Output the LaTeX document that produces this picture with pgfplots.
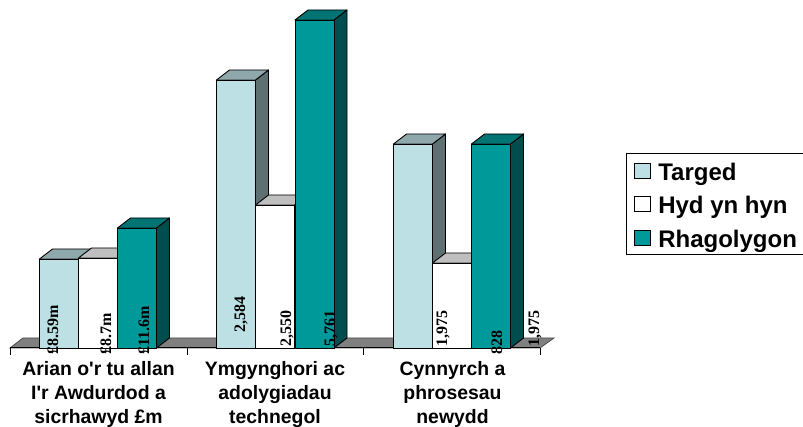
\documentclass[border=0pt]{standalone}
\usepackage{fontspec}
\setmainfont{Liberation Sans}
\newfontfamily\ser{Liberation Serif}
\usepackage{pgfplots}
\pgfplotsset{compat=1.18}
\definecolor{tgF}{HTML}{BCE0E4}\definecolor{tgS}{HTML}{5E7072}\definecolor{tgT}{HTML}{8EA8AB}
\definecolor{hyF}{HTML}{FFFFFF}\definecolor{hyS}{HTML}{808080}\definecolor{hyT}{HTML}{BFBFBF}
\definecolor{rhF}{HTML}{009999}\definecolor{rhS}{HTML}{004D4D}\definecolor{rhT}{HTML}{007373}
\pgfplotsset{barface/.style={ybar,bar width=39,bar shift=0pt,draw=black,line width=0.9pt,forget plot},
 poly/.style={draw=black,line width=0.9pt,forget plot,line join=round}}
% side and top faces of one bar: left x, height, side colour, top colour
\newcommand\depth[4]{%
 \pgfmathsetmacro\xa{#1+39}\pgfmathsetmacro\xb{#1+52}\pgfmathsetmacro\xc{#1+13}%
 \pgfmathsetmacro\yb{#2+10}%
 \addplot[poly,fill=#3] coordinates {(\xa,0)(\xb,10)(\xb,\yb)(\xa,#2)} -- cycle;
 \addplot[poly,fill=#4] coordinates {(#1,#2)(\xc,\yb)(\xb,\yb)(\xa,#2)} -- cycle;
}
\newcommand\lab[4]{\node[rotate=90,anchor=#3,inner sep=0pt,font=\ser\fontsize{16}{16}\selectfont\bfseries] at (axis cs:#1,#2) {#4};}
\newcommand\ent[1]{\hspace*{7.5pt}\rule[-4pt]{0pt}{25pt}#1}
\begin{document}
\begin{tikzpicture}
\path[use as bounding box] (0,0) rectangle (803pt,427pt);
\begin{axis}[
 at={(0,0)},anchor=south west,scale only axis,width=803pt,height=427pt,
 xmin=0,xmax=803,ymin=-79,ymax=348,clip=false,
 hide y axis,axis x line=middle,x axis line style={draw=none,-},
 tick align=outside,
 xtick={98.5,275,452.5},
 xticklabels={{Arian o\textquotesingle r tu allan\\I\textquotesingle r Awdurdod a\\sicrhawyd £m},{Ymgynghori ac\\adolygiadau\\technegol},{Cynnyrch a\\phrosesau\\newydd}},
 xticklabel style={align=center,font=\fontsize{19.4}{24}\selectfont\bfseries,text=black,inner sep=0pt,yshift=-13pt},
 major tick length=0pt,
 extra x ticks={10,187,363.5,540},extra x tick labels={},
 extra tick style={major tick length=7pt,tick style={draw=black,line width=0.8pt}},
 legend style={at={(axis cs:634,188.5)},anchor=north west,draw=none,fill=none,
   inner sep=0pt,outer sep=0pt,row sep=11pt,
   font=\fontsize{24}{24}\selectfont\bfseries,
   nodes={inner sep=0pt,anchor=west}},
 legend cell align=left,
 legend image code/.code={\draw[#1,line width=0.8pt] (0pt,-7.5pt) rectangle (16pt,7.5pt);},
]
\addlegendimage{fill=tgF,draw=black}
\addlegendimage{fill=hyF,draw=black}
\addlegendimage{fill=rhF,draw=black}
\addlegendentry{\ent{Targed}}\addlegendentry{\ent{Hyd yn hyn}}\addlegendentry{\ent{Rhagolygon}}
% legend frame, open at the right edge of the picture
\addplot[draw=black,line width=0.9pt,forget plot] coordinates {(803,195)(626,195)(626,94)(803,94)};
% floor
\addplot[fill=gray,draw=black!70,line width=0.8pt,forget plot] coordinates {(10,0)(23,10)(554,10)(540,0)} -- cycle;
\addplot[black,line width=1pt,forget plot] coordinates {(10,0)(540,0)};
% Targed
\depth{39.5}{89}{tgS}{tgT}\depth{216.5}{268}{tgS}{tgT}\depth{393.5}{204}{tgS}{tgT}
\addplot[barface,fill=tgF] coordinates {(59,89)(236,268)(413,204)};
% Hyd yn hyn
\depth{78.5}{90}{hyS}{hyT}\depth{255.5}{143}{hyS}{hyT}\depth{432.5}{85}{hyS}{hyT}
\addplot[barface,fill=hyF] coordinates {(98,90)(275,143)(452,85)};
% Rhagolygon
\depth{117.5}{120}{rhS}{rhT}\depth{295}{328}{rhS}{rhT}\depth{471.5}{204}{rhS}{rhT}
\addplot[barface,fill=rhF] coordinates {(137,120)(314.5,328)(491,204)};
% data labels
\lab{53}{-7}{west}{£8.59m}
\lab{106}{-7}{west}{£8.7m}
\lab{144}{-7}{west}{£11.6m}
\lab{241}{15}{west}{2,584}
\lab{287}{1}{west}{2,550}
\lab{331}{1}{west}{5,761}
\lab{443}{1}{west}{1,975}
\lab{497}{-7}{west}{828}
\lab{535}{1}{west}{1,975}
\end{axis}
\end{tikzpicture}
\end{document}
